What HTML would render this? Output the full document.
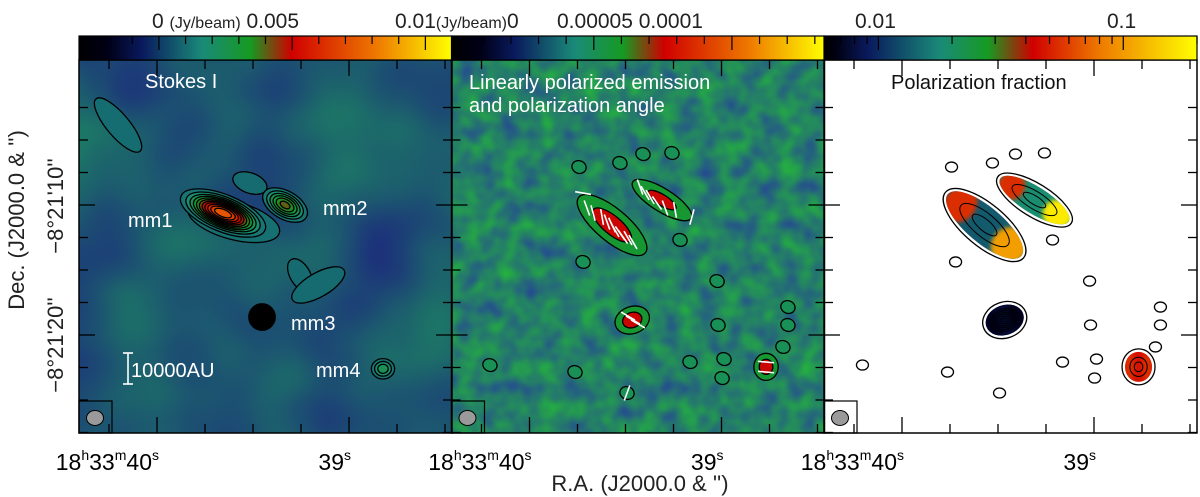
<!DOCTYPE html>
<html><head><meta charset="utf-8">
<style>
html,body{margin:0;padding:0;background:#fff;}
svg{display:block;font-family:"Liberation Sans",sans-serif;}
</style></head>
<body>
<svg id="fig" width="1200" height="497" viewBox="0 0 1200 497" xmlns="http://www.w3.org/2000/svg">
<defs>
<filter id="noise1" filterUnits="userSpaceOnUse" x="79" y="60" width="373" height="373" color-interpolation-filters="sRGB">
<feTurbulence type="fractalNoise" baseFrequency="0.01" numOctaves="2" seed="3"/>
<feColorMatrix type="matrix" values="0 0 0 0 0.11  0.4 0 0 0 0.13  -0.12 0 0 0 0.5  0 0 0 0 1"/>
</filter>
<filter id="noise2" filterUnits="userSpaceOnUse" x="451" y="60" width="374" height="373" color-interpolation-filters="sRGB">
<feTurbulence type="fractalNoise" baseFrequency="0.05" numOctaves="2" seed="7"/>
<feColorMatrix type="matrix" values="0 0 0 0 0.14  0.5 0 0 0 0.25  -0.4 0 0 0 0.6  0 0 0 0 1"/>
</filter>
<filter id="soft" x="-50%" y="-50%" width="200%" height="200%"><feGaussianBlur stdDeviation="2"/></filter>
<clipPath id="clipP1"><rect x="79" y="60" width="373" height="373"/></clipPath>
<clipPath id="clipP2"><rect x="451.5" y="60" width="373" height="373"/></clipPath>
<clipPath id="clipP3"><rect x="824" y="60" width="373" height="373"/></clipPath>
<linearGradient id="cbgrad" x1="0" x2="1" y1="0" y2="0">
<stop offset="0" stop-color="#000000"/><stop offset="0.08" stop-color="#000018"/>
<stop offset="0.17" stop-color="#0a1a5e"/><stop offset="0.33" stop-color="#1a8a78"/>
<stop offset="0.46" stop-color="#169a22"/><stop offset="0.57" stop-color="#d00000"/>
<stop offset="0.8" stop-color="#ee7a00"/><stop offset="1" stop-color="#ffff00"/>
</linearGradient>
<linearGradient id="cbgrad3" x1="0" x2="1" y1="0" y2="0">
<stop offset="0" stop-color="#000000"/><stop offset="0.03" stop-color="#000010"/>
<stop offset="0.12" stop-color="#0a1a5e"/><stop offset="0.31" stop-color="#1a8a78"/>
<stop offset="0.44" stop-color="#169a22"/><stop offset="0.56" stop-color="#d00000"/>
<stop offset="0.74" stop-color="#ee7a00"/><stop offset="1" stop-color="#ffff00"/>
</linearGradient>
</defs>
<g id="layer"></g>
</svg>
<script>
// ---------- data ----------
const sourceNames = ['mm1','mm2','mm3','mm4'];
const sourceRA   = [39.656, 39.333, 39.453, 38.823];
const sourceDec  = [10.62, 10.0, 18.62, 22.6];
const sourcePeak = [0.0075, 0.0042, 0.03, 0.0026];
const extRA   = [40.203, 39.255, 39.16, 39.516, 39.60];
const extDec  = [3.85, 15.38, 16.15, 8.31, 11.2];
const extPeak = [0.0012, 0.0011, 0.0011, 0.0011, 0.0013];
const contourBase = 0.0009, contourStep = 0.0006;

const polRA   = [39.570, 39.31, 39.465, 38.768];
const polDec  = [11.54, 9.62, 18.85, 22.45];
const polPeak = [0.0001, 0.00009, 0.0001, 0.0001];
const islandRA  = [39.023,38.654,38.654,38.680,39.164,38.987,38.997,39.018,39.216,39.721,39.742,39.529,39.409,39.258,40.206,39.763,39.492];
const islandDec = [15.85,17.85,19.23,20.92,22.08,21.85,23.31,19.23,12.69,14.38,7.08,6.77,6.08,6.0,22.31,22.85,24.46];
const vecRA  = [39.721,39.701,39.669,39.622,39.596,39.570,39.555,39.529,39.513,39.487,39.461,39.424,39.398,39.372,39.336,39.294,39.242,39.154,39.487,39.461,39.435,38.768,38.768,39.492];
const vecDec = [9.08,10.23,10.62,10.92,11.31,11.54,11.92,12.15,12.46,12.54,12.85,8.62,9.08,9.38,9.85,10.23,10.38,10.92,18.54,18.85,19.15,22.08,22.85,24.46];
const vecPA  = [80,20,15,10,20,25,30,35,35,30,30,20,30,30,35,20,10,-15,60,60,60,85,85,-20];

const fracNorth = [0.06, 0.06, 0.008, 0.06];
const fracMid   = [0.015, 0.02, 0.009, 0.05];
const fracSouth = [0.12, 0.18, 0.008, 0.06];

const cb1Ticks = [-0.002,-0.001,0,0.001,0.002,0.003,0.004,0.005,0.006,0.007,0.008,0.009,0.01];
const cb1Major = [0, 0.005, 0.01];
const cb2Ticks = [0,0.00001,0.00002,0.00003,0.00004,0.00005,0.00006,0.00007,0.00008,0.00009,0.0001,0.00011,0.00012,0.00013];
const cb2Major = [0, 0.00005, 0.0001];
const cb3Ticks = [0.007,0.008,0.009,0.01,0.02,0.03,0.04,0.05,0.06,0.07,0.08,0.09,0.1,0.2];
const cb3Major = [0.01, 0.1];
const raTicks  = [40.25,40.0,39.75,39.5,39.25,39.0,38.75,38.5];
const decTicks = [2.5,5,7.5,10,12.5,15,17.5,20,22.5,25,27.5];

// ---------- helpers ----------
const NS='http://www.w3.org/2000/svg';
const layer=document.getElementById('layer');
const OX=[79,451.5,824], TOP=60, BOT=433, W=373;
function X(p,ra){return OX[p]+78+(40-ra)*192;}
function Y(dec){return 205+(dec-10)*13;}
function mk(tag,attrs,parent){const e=document.createElementNS(NS,tag);for(const k in attrs)e.setAttribute(k,attrs[k]);(parent||layer).appendChild(e);return e;}
const stops=[[0,[0,0,0]],[0.08,[0,0,24]],[0.17,[10,26,94]],[0.33,[26,138,120]],[0.46,[22,154,34]],[0.57,[208,0,0]],[0.8,[238,122,0]],[1,[255,255,0]]];
function cmap(t){if(t>1.0001)return 'rgb(0,0,0)';t=Math.max(0,Math.min(1,t));for(let i=1;i<stops.length;i++){if(t<=stops[i][0]){const a=stops[i-1],b=stops[i];const f=(t-a[0])/(b[0]-a[0]);const c=a[1].map((v,j)=>Math.round(v+(b[1][j]-v)*f));return 'rgb('+c.join(',')+')';}}return 'rgb(255,255,0)';}
const cb1 = v => (v+0.003)/0.014;
const cb2 = v => (v+0.0000015)/0.000135;
const cb3 = v => (Math.log10(v)-Math.log10(0.006))/(Math.log10(0.2)-Math.log10(0.006));

// ---------- panel backgrounds ----------
let g1=mk('g',{'clip-path':'url(#clipP1)'});


mk('rect',{x:79,y:60,width:373,height:373,fill:'#1f5474'},g1);
mk('rect',{x:79,y:60,width:373,height:373,filter:'url(#noise1)'},g1);
let g2=mk('g',{'clip-path':'url(#clipP2)'});


mk('rect',{x:451.5,y:60,width:373,height:373,fill:'#1f7a62'},g2);
mk('rect',{x:451.5,y:60,width:373,height:373,filter:'url(#noise2)'},g2);
let g3=mk('g',{'clip-path':'url(#clipP3)'});


mk('rect',{x:824,y:60,width:373,height:373,fill:'#ffffff'},g3);

// ---------- contour blobs ----------
const shape1=[[22,9,22],[14,8,30],[5,5,0],[8,7,0]];
const extShape=[[45,15,50],[16,28,-30],[47,19,-30],[28,16,20],[55,22,15]];
function blob(g,cx,cy,sx,sy,rot,peak,levels,norm,stroke,name){
  const grp=mk('g',{transform:'translate('+cx+','+cy+') rotate('+rot+')'},g);
  
  
  for(let i=0;i<levels.length;i++){const L=levels[i];if(L>=peak)break;
    const k=Math.sqrt(2*Math.log(peak/L));
    const nxt=i+1<levels.length?levels[i+1]:L;
    mk('ellipse',{cx:0,cy:0,rx:sx*k,ry:sy*k,fill:cmap(norm((L+Math.min(nxt,peak))/2)),stroke:stroke,'stroke-width':1.3},grp);}
  return grp;
}
const lev1=[];for(let v=contourBase;v<0.04;v+=contourStep*(v>0.01?4:1))lev1.push(v);
for(let i=0;i<extRA.length;i++){
  blob(g1,X(0,extRA[i]),Y(extDec[i]),extShape[i][0],extShape[i][1],extShape[i][2],extPeak[i],lev1,cb1,'#000','extended-emission');
}
for(let i=0;i<sourceRA.length;i++){
  blob(g1,X(0,sourceRA[i]),Y(sourceDec[i]),shape1[i][0],shape1[i][1],shape1[i][2],sourcePeak[i],lev1,cb1,'#000','source-'+sourceNames[i]);
}
// panel 2 islands
const lev2=[0.00004,0.000075];
const shape2=[[32,12,40],[27,9,32],[13,10,-20],[9,10,0]];
for(let i=0;i<islandRA.length;i++){
  blob(g2,X(1,islandRA[i]),Y(islandDec[i]),8,7,20,0.00006,lev2,cb2,'#000','polarized-island');
}
for(let i=0;i<polRA.length;i++){
  blob(g2,X(1,polRA[i]),Y(polDec[i]),shape2[i][0],shape2[i][1],shape2[i][2],polPeak[i],lev2,cb2,'#000','polarized-'+sourceNames[i]);
}
// polarization vectors
for(let i=0;i<vecRA.length;i++){
  const cx=X(1,vecRA[i]),cy=Y(vecDec[i]),a=vecPA[i]*Math.PI/180,L=8;
  const l=mk('line',{x1:cx-Math.sin(a)*L,y1:cy-Math.cos(a)*L,x2:cx+Math.sin(a)*L,y2:cy+Math.cos(a)*L,stroke:'#fff','stroke-width':1.6},g2);
  
  
}
// panel 3
for(let i=0;i<islandRA.length;i++){
  const e=mk('ellipse',{cx:X(2,islandRA[i]),cy:Y(islandDec[i]),rx:6,ry:5,fill:'none',stroke:'#000','stroke-width':1.3},g3);
  
  
}
for(let i=0;i<polRA.length;i++){
  const cx=X(2,polRA[i]),cy=Y(polDec[i]),s=shape2[i];
  const grp=mk('g',{transform:'translate('+cx+','+cy+') rotate('+s[2]+')'},g3);
  
  
  mk('ellipse',{cx:0,cy:0,rx:s[0]*1.5+3,ry:s[1]*1.5+3,fill:'#fff',stroke:'#000','stroke-width':1.3},grp);
  const cid='fc'+i;
  const cp=mk('clipPath',{id:cid},grp);mk('ellipse',{cx:0,cy:0,rx:s[0]*1.5,ry:s[1]*1.5},cp);
  const inner=mk('g',{'clip-path':'url(#'+cid+')'},grp);
  const fr=[fracNorth[i],fracMid[i],fracSouth[i]];
  mk('rect',{x:-s[0]*1.6,y:-s[1]*1.6,width:s[0]*3.2,height:s[1]*3.2,fill:cmap(cb3(fr[1]))},inner);
  mk('ellipse',{cx:-s[0]*1.0,cy:0,rx:s[0]*0.5,ry:s[1]*1.6,fill:cmap(cb3(fr[0])),filter:'url(#soft)'},inner);
  mk('ellipse',{cx:s[0]*1.0,cy:0,rx:s[0]*0.55,ry:s[1]*1.6,fill:cmap(cb3(fr[2])),filter:'url(#soft)'},inner);
  const n=i===2?6:2;
  for(let k=1;k<=n;k++){mk('ellipse',{cx:0,cy:0,rx:s[0]*1.2*k/(n+0.5),ry:s[1]*1.2*k/(n+0.5),fill:'none',stroke:'#000','stroke-width':1},grp);}
}

// ---------- axes / frames / ticks ----------
for(let p=0;p<3;p++){
  const ox=OX[p];
  const fr=mk('rect',{x:ox,y:TOP,width:W,height:BOT-TOP,fill:'none',stroke:'#000','stroke-width':1.5});
  
  
  const tc='#000';
  raTicks.forEach(r=>{const x=X(p,r);if(x<ox||x>ox+W)return;const major=(r===40||r===39);const L=major?16:9;
    mk('line',{x1:x,y1:BOT,x2:x,y2:BOT-L,stroke:tc,'stroke-width':1.3});
    mk('line',{x1:x,y1:TOP,x2:x,y2:TOP+L,stroke:tc,'stroke-width':1.3});});
  decTicks.forEach(d=>{const y=Y(d);if(y<TOP||y>BOT)return;const major=(d===10||d===20);const L=major?16:9;
    mk('line',{x1:ox,y1:y,x2:ox+L,y2:y,stroke:tc,'stroke-width':1.3});
    mk('line',{x1:ox+W,y1:y,x2:ox+W-L,y2:y,stroke:tc,'stroke-width':1.3});});
  const bb=mk('g',{});
  
  
  mk('rect',{x:ox,y:401,width:33,height:32,fill:'none',stroke:'#000','stroke-width':1.2},bb);
  mk('ellipse',{cx:ox+16,cy:418,rx:8.5,ry:7.5,fill:'#9a9a9a',stroke:'#000','stroke-width':1},bb);
  const l1=mk('text',{x:X(p,40)+2,y:470,'font-size':23,'text-anchor':'end',fill:'#000'});
  l1.innerHTML='18<tspan font-size="14" dy="-10">h</tspan><tspan dy="10">33</tspan><tspan font-size="14" dy="-10">m</tspan><tspan dy="10">40</tspan><tspan font-size="14" dy="-10">s</tspan>';
  
  
  const l2=mk('text',{x:X(p,39)+2,y:470,'font-size':23,'text-anchor':'end',fill:'#000'});
  l2.innerHTML='39<tspan font-size="14" dy="-10">s</tspan>';
  
  
}

// ---------- colorbars ----------
function colorbar(x0,grad,ticks,major,norm,name){
  const g=mk('g',{});
  
  
  mk('rect',{x:x0,y:36,width:W,height:24,fill:'url(#'+grad+')',stroke:'#000','stroke-width':1.2},g);
  ticks.forEach(v=>{const x=x0+norm(v)*W;if(x<x0||x>x0+W)return;const L=major.includes(v)?14:8;
    mk('line',{x1:x,y1:36,x2:x,y2:36+L,stroke:'#000','stroke-width':1.2},g);});
}
colorbar(OX[0],'cbgrad',cb1Ticks,cb1Major,cb1,'stokes-i-colorbar');
colorbar(OX[1],'cbgrad',cb2Ticks,cb2Major,cb2,'polarized-colorbar');
colorbar(OX[2],'cbgrad3',cb3Ticks,cb3Major,cb3,'fraction-colorbar');
</script>
<svg width="1200" height="497" viewBox="0 0 1200 497" style="position:absolute;left:0;top:0;font-family:'Liberation Sans',sans-serif;">
<g font-size="21" fill="#222">
<text x="152" y="28">0 <tspan font-size="16">(Jy/beam)</tspan> 0.005</text>
<text x="395" y="28">0.01<tspan font-size="16">(Jy/beam)</tspan>0</text>
<text x="557" y="28">0.00005  0.0001</text>
<text x="855" y="28">0.01</text>
<text x="1107" y="28">0.1</text>
</g>
<g font-size="20" fill="#fff">
<text x="145" y="88">Stokes I</text>
<text x="128" y="227">mm1</text>
<text x="323" y="215">mm2</text>
<text x="291" y="330">mm3</text>
<text x="316" y="377">mm4</text>
<text x="131" y="377">10000AU</text>
<text x="469" y="89">Linearly polarized emission</text>
<text x="469" y="112">and polarization angle</text>
<text x="891" y="89" fill="#111">Polarization fraction</text>
</g>
<g stroke="#fff" stroke-width="1.6">
<line x1="128" y1="353" x2="128" y2="384"/><line x1="123" y1="353" x2="133" y2="353"/><line x1="123" y1="384" x2="133" y2="384"/>
</g>
<g font-size="22" fill="#222">
<text transform="translate(24,220) rotate(-90)" text-anchor="middle">Dec.  (J2000.0 &amp; '')</text>
<text transform="translate(63,206) rotate(-90)" text-anchor="middle">−8°21'10''</text>
<text transform="translate(63,345) rotate(-90)" text-anchor="middle">−8°21'20''</text>
<text x="640" y="491" text-anchor="middle">R.A.  (J2000.0 &amp; '')</text>
</g>
</svg>
</body></html>
